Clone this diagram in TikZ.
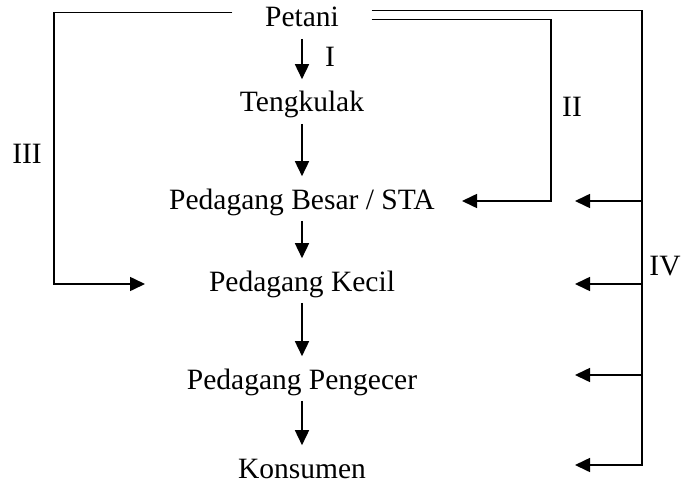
\documentclass[tikz,border=0pt]{standalone}
\usepackage{fontspec}
\setmainfont{Liberation Serif}
\usetikzlibrary{arrows.meta}

\begin{document}
\begin{tikzpicture}[x=1pt,y=-1pt,line width=1.6pt,
	lbl/.style={font=\fontsize{29.5}{33}\selectfont,inner sep=0pt},
	tier/.style={lbl,anchor=base,text height=19pt,text depth=6pt},
	arr/.style={-{Triangle[length=15pt,width=14pt]}}]
	\useasboundingbox (0,0) rectangle (682,484);

	\node[tier,inner xsep=32pt] (petani) at (302,27) {Petani};
	\node[tier] (tengkulak) at (302,112) {Tengkulak};
	\node[tier] (besar) at (302,209) {Pedagang Besar / STA};
	\node[tier] (kecil) at (302,291) {Pedagang Kecil};
	\node[tier] (pengecer) at (302,389) {Pedagang Pengecer};
	\node[tier] (konsumen) at (302,478) {Konsumen};

	\foreach \a/\b in {petani/tengkulak,tengkulak/besar,besar/kecil,kecil/pengecer,pengecer/konsumen}{
		\draw[arr,shorten <=5pt,shorten >=13pt] (\a.south) -- (\b.north);
	}

	% saluran III
	\coordinate (k3) at (54,284);
	\coordinate (t3) at (145,284);
	\draw[arr] ([yshift=8pt]petani.west) -| (k3) -- (t3);

	% saluran II
	\coordinate (k2) at (551,201);
	\coordinate (t2) at (462,201);
	\draw[arr] ([yshift=1pt]petani.east) -| (k2) -- (t2);

	% saluran IV
	\coordinate (k4) at (642,465);
	\coordinate (t4) at (575,465);
	\draw[arr] ([yshift=10pt]petani.east) -| (k4) -- (t4);
	\foreach \y [count=\i] in {201,284,375}{
		\coordinate (b\i) at (642,\y);
		\coordinate (e\i) at (575,\y);
		\draw[arr] (b\i) -- (e\i);
	}

	\node[lbl] (r1) at (330,57) {I};
	\node[lbl] (r2) at (572,107) {II};
	\node[lbl] (r3) at (27,154) {III};
	\node[lbl] (r4) at (665,266) {IV};
\end{tikzpicture}
\end{document}
